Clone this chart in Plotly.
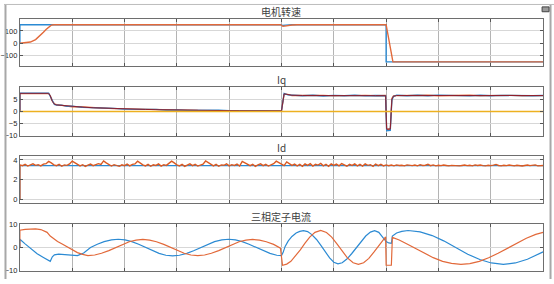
import numpy as np
import plotly.graph_objects as go

# ---------------- data ----------------
# panel 1: motor speed
spd_ref_t = [0, 0, 4.98, 5.02, 5.08, 5.2, 7.0, 7.0, 10]
spd_ref_v = [0, 150, 150, 144, 147, 150, 150, -150, -150]
spd_t = [0, 0.1, 0.2, 0.3, 0.35, 0.4, 0.45, 0.5, 0.55, 0.6, 0.65, 4.98, 5.03, 5.1, 5.2, 5.3, 7.0, 7.13, 10]
spd_v = [0, 2, 10, 30, 48, 68, 90, 112, 132, 147, 150, 150, 137, 143, 148, 150, 150, -150, -150]

# panel 2: Iq
iq_t = [0, 0, 0.55, 0.58, 0.62, 0.66, 0.7, 0.8, 0.9, 1.0,
        1.2, 1.4, 1.6, 1.8, 2.0, 2.2, 2.4, 2.6, 2.8, 3.0, 3.2, 3.4, 3.6, 3.8, 4.0, 4.2, 4.4, 4.6, 4.8,
        5.0,
        5.05, 5.12, 5.2,
        5.4, 5.6, 5.8, 6.0, 6.2, 6.4, 6.6, 6.8,
        6.99,
        7.01, 7.08, 7.11, 7.14, 7.2,
        7.4, 7.6, 7.8, 8.0, 8.2, 8.4, 8.6, 8.8, 9.0, 9.2, 9.4, 9.6, 9.8, 10.0]
iq_ref = [0, 7.5, 7.5, 6.5, 4.2, 3.0, 2.7, 2.5, 2.2, 2.0,
          1.8, 1.55, 1.35, 1.2, 1.05, 0.95, 0.85, 0.75, 0.65, 0.58, 0.52, 0.46, 0.42, 0.38, 0.35, 0.32, 0.3, 0.28, 0.27,
          0.26,
          7.3, 7.0, 6.7,
          6.6, 6.55, 6.55, 6.55, 6.55, 6.55, 6.55, 6.55,
          6.55,
          -7.3, -7.3, 5.0, 6.3, 6.6,
          6.6, 6.6, 6.6, 6.6, 6.6, 6.6, 6.6, 6.6, 6.6, 6.6, 6.6, 6.6, 6.6, 6.6]
iq_blue = [0, 7.6, 7.6, 6.3, 4.0, 2.9, 2.6, 2.6, 2.1, 2.2,
           1.7, 1.65, 1.3, 1.3, 1.0, 1.05, 0.8, 0.85, 0.6, 0.7, 0.45, 0.55, 0.38, 0.5, 0.3, 0.4, 0.25, 0.35, 0.2,
           0.3,
           7.5, 6.9, 6.8,
           6.5, 6.7, 6.4, 6.65, 6.5, 6.7, 6.45, 6.6,
           6.5,
           -8.0, -7.8, 4.6, 6.2, 6.7,
           6.5, 6.7, 6.5, 6.75, 6.55, 6.65, 6.45, 6.7, 6.5, 6.65, 6.55, 6.7, 6.5, 6.6]
iq_orange = [0, 7.4, 7.4, 6.6, 4.4, 3.1, 2.8, 2.45, 2.3, 1.95,
             1.85, 1.5, 1.4, 1.15, 1.1, 0.9, 0.9, 0.7, 0.7, 0.55, 0.55, 0.42, 0.45, 0.35, 0.38, 0.3, 0.32, 0.25, 0.3,
             0.25,
             7.1, 7.1, 6.6,
             6.65, 6.5, 6.6, 6.45, 6.6, 6.5, 6.65, 6.5,
             6.6,
             -7.5, -7.1, 5.4, 6.4, 6.55,
             6.65, 6.5, 6.7, 6.5, 6.6, 6.55, 6.7, 6.5, 6.6, 6.55, 6.65, 6.5, 6.6, 6.55]
iq_zero_t = [0, 10]
iq_zero_v = [0, 0]

# panel 3: Id
id_ref_t = [0, 0, 10]
id_ref_v = [0, 3.42, 3.42]
id_orange = [3.5, 3.42, 3.55, 3.38, 3.5, 3.6, 3.45, 3.52, 3.4, 3.58,
             3.62, 3.85, 3.7, 3.5, 3.42, 3.55, 3.36, 3.5, 3.45, 3.6,
             3.88, 3.72, 3.55, 3.4, 3.52, 3.35, 3.48, 3.58, 3.42, 3.5,
             3.62, 3.55, 3.9, 3.7, 3.5, 3.38, 3.52, 3.45, 3.35, 3.5,
             3.42, 3.58, 3.4, 3.55, 3.6, 3.87, 3.68, 3.5, 3.4, 3.55,
             3.36, 3.5, 3.44, 3.6, 3.38, 3.52, 3.45, 3.62, 3.88, 3.7,
             3.5, 3.4, 3.55, 3.35, 3.5, 3.6, 3.42, 3.55, 3.38, 3.5,
             3.58, 3.9, 3.72, 3.52, 3.4, 3.55, 3.36, 3.5, 3.46, 3.6,
             3.4, 3.52, 3.44, 3.58, 3.38, 3.86, 3.7, 3.5, 3.42, 3.56,
             3.35, 3.5, 3.6, 3.42, 3.55, 3.38, 3.5, 3.62, 3.88, 3.7,
             3.55, 3.42, 3.8, 3.6, 3.45, 3.58, 3.4, 3.55, 3.36, 3.6,
             3.45, 3.62, 3.38, 3.55, 3.48, 3.65, 3.4, 3.56, 3.35, 3.6,
             3.44, 3.58, 3.4, 3.62, 3.5, 3.36, 3.55, 3.45, 3.6, 3.4,
             3.55, 3.38, 3.6, 3.45, 3.52, 3.35, 3.58, 3.42, 3.55, 3.4,
             3.5, 3.42, 3.48, 3.4, 3.5, 3.44, 3.46, 3.4, 3.5, 3.45,
             3.42, 3.48, 3.4, 3.52, 3.44, 3.46, 3.56, 3.42, 3.5, 3.4,
             3.46, 3.42, 3.48, 3.44, 3.4, 3.45, 3.42, 3.46, 3.4, 3.44,
             3.48, 3.42, 3.46, 3.4, 3.5, 3.44, 3.48, 3.42, 3.4, 3.46,
             3.42, 3.48, 3.55, 3.44, 3.4, 3.46, 3.42, 3.48, 3.44, 3.4,
             3.46, 3.42, 3.38, 3.44, 3.48, 3.42, 3.46, 3.5, 3.4, 3.45, 3.44]
id_sample_t = list(np.linspace(0, 10, len(id_orange)))

# panel 4: three-phase stator current
ph_a_t = [0, 0, 0.1, 0.2, 0.33, 0.45, 0.58, 0.62, 0.66, 0.74, 0.9, 1.05, 1.1, 1.22, 1.35, 1.48, 1.61, 1.75,
          1.88, 2.01, 2.14, 2.27, 2.40, 2.53, 2.66, 2.79, 2.92, 3.05, 3.19, 3.32, 3.46, 3.59, 3.72, 3.86,
          3.99, 4.12, 4.25, 4.38, 4.52, 4.65, 4.78, 4.91, 5.0, 5.03, 5.07, 5.13, 5.2, 5.28, 5.35, 5.42,
          5.5, 5.58, 5.67, 5.75, 5.84, 5.92, 6.0, 6.08, 6.16, 6.25, 6.34, 6.43, 6.52, 6.61, 6.7, 6.78,
          6.86, 6.93, 7.0, 7.05, 7.1, 7.12, 7.2, 7.3, 7.42, 7.65, 7.88, 8.1, 8.33, 8.56, 8.79, 9.01,
          9.24, 9.47, 9.7, 9.9, 10.0]
ph_a_v = [0, 3.6, 1.6, -0.3, -2.7, -4.3, -6.0, -4.0, -3.2, -2.9, -3.3, -3.6, -3.5, -2.4, 0.0, 1.4, 2.55, 3.35,
          3.6, 3.35, 2.55, 1.4, 0.0, -1.4, -2.55, -3.35, -3.6, -3.35, -2.55, -1.4, 0.0, 1.4, 2.55, 3.35,
          3.6, 3.35, 2.55, 1.4, 0.0, -1.4, -2.55, -3.35, -3.5, -2.2, 0.5, 2.9, 4.8, 6.3, 7.0, 7.3,
          6.9, 5.6, 3.5, 1.0, -2.0, -4.5, -6.4, -7.1, -6.6, -5.0, -2.7, 0.0, 2.8, 5.0, 6.7, 7.3,
          6.6, 4.8, 2.6, 2.0, 1.8, 5.0, 6.3, 7.0, 7.4, 6.8, 5.2, 2.9, 0.0, -2.9, -5.2, -6.7,
          -7.3, -6.7, -5.1, -3.0, -1.9]
ph_b_t = [0, 0, 0.1, 0.2, 0.3, 0.4, 0.45, 0.52, 0.58, 0.65, 0.72, 0.8, 0.9, 1.0, 1.1, 1.2, 1.3, 1.43, 1.56,
          1.70, 1.83, 1.96, 2.09, 2.22, 2.35, 2.48, 2.61, 2.75, 2.88, 3.01, 3.14, 3.27, 3.40, 3.53, 3.66,
          3.80, 3.93, 4.06, 4.19, 4.32, 4.45, 4.58, 4.71, 4.85, 4.98, 5.02, 5.1, 5.18, 5.27, 5.36, 5.45,
          5.54, 5.64, 5.75, 5.86, 5.96, 6.06, 6.16, 6.26, 6.37, 6.47, 6.57, 6.67, 6.77, 6.87, 6.97, 6.99,
          7.0, 7.1, 7.12, 7.25, 7.4, 7.56, 7.72, 7.9, 8.08, 8.25, 8.43, 8.6, 8.78, 8.96, 9.14, 9.32,
          9.5, 9.68, 9.86, 10.0]
ph_b_v = [0, 7.5, 7.9, 8.1, 8.1, 7.8, 7.4, 6.6, 5.0, 3.6, 2.6, 1.6, 0.3, -1.0, -2.2, -3.0, -3.5, -3.25, -2.5,
          -1.35, 0.0, 1.35, 2.5, 3.25, 3.5, 3.25, 2.5, 1.35, 0.0, -1.35, -2.5, -3.25, -3.5, -3.25, -2.5,
          -1.35, 0.0, 1.35, 2.5, 3.25, 3.5, 3.25, 2.5, 1.35, -0.3, -7.7, -7.2, -6.0, -3.7, -1.0, 1.9,
          4.5, 6.6, 7.4, 6.5, 4.5, 1.6, -1.6, -4.5, -6.6, -7.3, -6.6, -4.7, -1.9, 1.3, 4.2, 4.6,
          -7.7, -7.7, 4.4, 3.3, 1.5, -0.5, -2.5, -4.4, -6.0, -6.9, -7.3, -7.0, -6.0, -4.45, -2.5, -0.25,
          2.0, 4.0, 5.7, 6.6]

titles = ["电机转速", "Iq", "Id", "三相定子电流"]
y_ranges = [[-183, 200], [-10, 10], [-0.33, 4.4], [-10.3, 10.3]]
y_ticks = [[-100, 0, 100], [-10, -5, 0, 5], [0, 2, 4], [-10, 0, 10]]
x_ticks = list(range(0, 11))

# ---------------- layout geometry ----------------
W, H = 554, 284
x0px, x1px = 16, 543
panels_px = [(15, 64), (86, 136), (157, 205), (227, 276)]
title_y_px = [8, 78, 148, 219]

BLUE = "#2b8ad3"
ORANGE = "#e2693a"
ID_ORANGE = "#db5a22"
YELLOW = "#EDB120"
BROWN = "#8f1f2c"

fig = go.Figure()

def add(xs, ys, color, idx, width=1.2):
    suffix = "" if idx == 1 else str(idx)
    fig.add_trace(go.Scatter(x=xs, y=ys, mode="lines", line=dict(color=color, width=width),
                             xaxis="x" + suffix, yaxis="y" + suffix, showlegend=False,
                             hoverinfo="skip"))

add(spd_ref_t, spd_ref_v, BLUE, 1, 1.4)
add(spd_t, spd_v, ORANGE, 1, 1.4)

add(iq_t, iq_orange, ORANGE, 2, 1.3)
add(iq_t, iq_blue, BLUE, 2, 1.3)
add(iq_t, iq_ref, BROWN, 2, 1.0)
add(iq_zero_t, iq_zero_v, YELLOW, 2, 1.3)

add(id_ref_t, id_ref_v, BLUE, 3, 1.2)
add([0] + id_sample_t, [0] + id_orange, ID_ORANGE, 3, 1.4)

add(ph_a_t, ph_a_v, BLUE, 4, 1.2)
add(ph_b_t, ph_b_v, ORANGE, 4, 1.2)

layout = dict(width=W, height=H, margin=dict(l=0, r=0, t=0, b=0),
              paper_bgcolor="#ffffff", plot_bgcolor="#ffffff", showlegend=False)

annotations = []
for i in range(4):
    suffix = "" if i == 0 else str(i + 1)
    top, bot = panels_px[i]
    layout["xaxis" + suffix] = dict(
        domain=[x0px / W, x1px / W], range=[0, 10], anchor="y" + suffix,
        tickvals=x_ticks, showticklabels=False, ticks="inside", ticklen=3,
        tickcolor="#555555", showgrid=True, gridcolor="#b4b4b4", gridwidth=1,
        showline=True, linecolor="#6e6e6e", linewidth=1, mirror="ticks", zeroline=False,
        fixedrange=True)
    layout["yaxis" + suffix] = dict(
        domain=[1 - bot / H, 1 - top / H], range=y_ranges[i], anchor="x" + suffix,
        tickvals=y_ticks[i], ticks="inside", ticklen=3, tickcolor="#555555",
        tickfont=dict(family="Liberation Sans", size=7.5, color="#262626"),
        showgrid=True, gridcolor="#d7d7d7", gridwidth=1,
        showline=True, linecolor="#6e6e6e", linewidth=1, mirror="ticks", zeroline=False,
        fixedrange=True)
    annotations.append(dict(text=titles[i], x=(x0px + x1px) / 2 / W, y=1 - title_y_px[i] / H,
                            xref="paper", yref="paper", showarrow=False, xanchor="center",
                            yanchor="middle",
                            font=dict(family="Noto Sans CJK SC", size=10, color="#404040")))
layout["annotations"] = annotations

layout["shapes"] = [
    dict(type="line", xref="paper", yref="paper", x0=1.5 / W, x1=1.5 / W, y0=0, y1=1,
         line=dict(color="#a8a8a8", width=2)),
    dict(type="line", xref="paper", yref="paper", x0=550.5 / W, x1=550.5 / W, y0=0, y1=1,
         line=dict(color="#a8a8a8", width=2)),
    dict(type="line", xref="paper", yref="paper", x0=0, x1=1, y0=1 - 0.5 / H, y1=1 - 0.5 / H,
         line=dict(color="#bdbdbd", width=1)),
    dict(type="rect", xref="paper", yref="paper", x0=542 / W, x1=549 / W,
         y0=1 - 8 / H, y1=1 - 3 / H, line=dict(color="#444444", width=1), fillcolor="#9a9a9a"),
]

fig.update_layout(**layout)
fig.write_html("out.html")
